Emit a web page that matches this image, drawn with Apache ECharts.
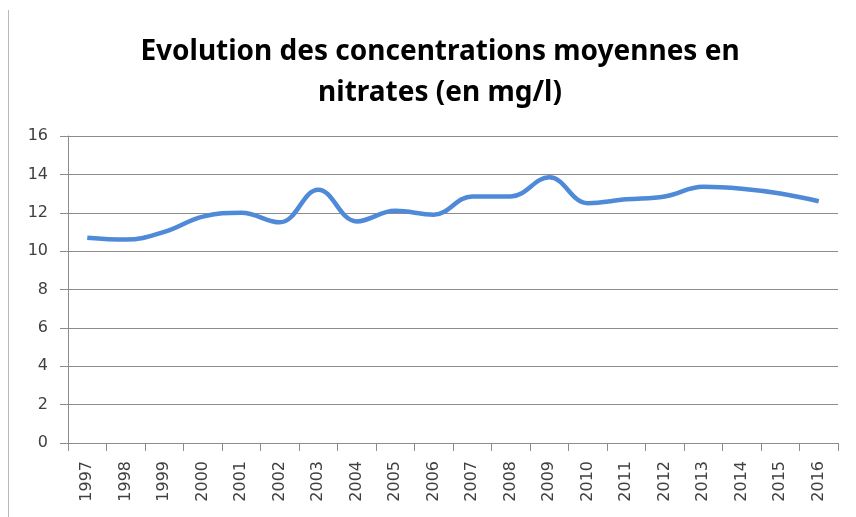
<!DOCTYPE html>
<html>
<head>
<meta charset="utf-8">
<script src="https://cdn.jsdelivr.net/npm/echarts@6/dist/echarts.min.js"></script>
<style>
  html, body { margin: 0; padding: 0; background: #fff; }
  .chart-container { width: 856px; height: 517px; position: relative; }
  .chart-border { position: absolute; left: 8px; top: 10px; bottom: 0; border-left: 1px solid #b8b8b8; }
</style>
</head>
<body>
<div class="chart-container">
  <div class="chart-border"></div>
  <div id="chart" style="width:856px;height:517px;"></div>
</div>
<script>
const years = ['1997', '1998', '1999', '2000', '2001', '2002', '2003', '2004', '2005', '2006',
  '2007', '2008', '2009', '2010', '2011', '2012', '2013', '2014', '2015', '2016']
const nitrates = [10.7, 10.6, 11.0, 11.8, 12.0, 11.5, 13.2, 11.55, 12.1, 11.9,
  12.85, 12.85, 13.85, 12.5, 12.7, 12.85, 13.35, 13.25, 13.0, 12.6]
const titleText = 'Evolution des concentrations moyennes en\nnitrates (en mg/l)'

const chart = echarts.init(document.getElementById('chart'))

const option = {
  animation: false,
  title: {
    text: titleText,
    left: 435, // avec textAlign center, left = centre du titre
    top: 27,
    textAlign: 'center',
    textStyle: {
      fontFamily: 'Noto Sans',
      fontSize: 28,
      fontWeight: 'bold',
      color: '#000',
      lineHeight: 41
    }
  },
  grid: { left: 68, right: 18, top: 136, bottom: 74, containLabel: false },
  xAxis: {
    type: 'category',
    data: years,
    boundaryGap: true,
    axisLine: { lineStyle: { color: '#8c8c8c', width: 1 } },
    axisTick: { show: true, length: 8, lineStyle: { color: '#8c8c8c' } },
    axisLabel: {
      rotate: 90,
      interval: 0,
      margin: 18,
      color: '#404040',
      fontFamily: 'DejaVu Sans',
      fontSize: 16
    },
    splitLine: { show: false }
  },
  yAxis: {
    type: 'value',
    min: 0,
    max: 16,
    interval: 2,
    axisLine: { show: true, lineStyle: { color: '#8c8c8c', width: 1 } },
    axisTick: { show: true, length: 8, lineStyle: { color: '#8c8c8c' } },
    axisLabel: {
      margin: 20,
      color: '#404040',
      fontFamily: 'DejaVu Sans',
      fontSize: 16
    },
    splitLine: { show: true, lineStyle: { color: '#8c8c8c', width: 1 } }
  },
  series: [
    {
      name: 'nitrates',
      type: 'line',
      data: nitrates,
      smooth: 0.4,
      symbol: 'none',
      lineStyle: { color: '#4f8ad8', width: 4.5 }
    }
  ]
}

chart.setOption(option)
</script>
</body>
</html>
